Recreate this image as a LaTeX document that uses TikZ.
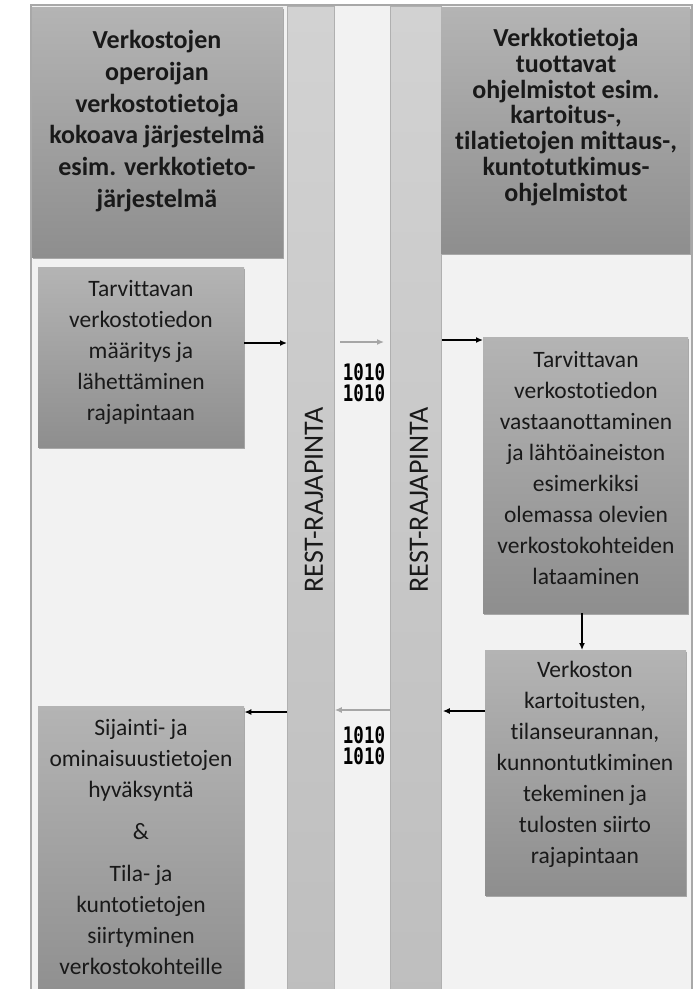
\documentclass[tikz,border=0pt]{standalone}
\usepackage{fontspec}
\setmainfont[Ligatures=NoCommon]{Carlito}
\newfontfamily\binfont{DejaVu Sans Mono}
\usetikzlibrary{shadows,arrows.meta}
\definecolor{bgc}{HTML}{F2F2F2}
\definecolor{framec}{HTML}{A8A8A8}
\definecolor{boxtop}{HTML}{B4B4B4}
\definecolor{boxbot}{HTML}{8E8E8E}
\definecolor{bartop}{HTML}{D2D2D2}
\definecolor{barbot}{HTML}{BEBEBE}
\definecolor{barline}{HTML}{B0B0B0}
\definecolor{garrow}{HTML}{A6A6A6}
\newcommand{\binline}{\scalebox{1}[1.3]{1010}}
\tikzset{
  boxnode/.style={rectangle, inner sep=0pt, top color=boxtop, bottom color=boxbot, draw=none,
    drop shadow={shadow xshift=1.2pt, shadow yshift=-1.8pt, opacity=0.3, fill=black}},
  barnode/.style={rectangle, inner sep=0pt, top color=bartop, bottom color=barbot, draw=barline, line width=0.8pt, anchor=north west},
  bodytext/.style={align=center, inner sep=0pt, font=\fontsize{23.5}{31}\selectfont, text=black!90},
  headtext/.style={align=center, inner sep=0pt, font=\fontsize{26}{31.7}\selectfont\bfseries, text=black!90},
  resttext/.style={rotate=90, inner sep=0pt, font=\fontsize{28}{30}\selectfont, text=black!90},
  bintext/.style={align=center, inner sep=0pt, font=\binfont\bfseries\fontsize{17.5}{21}\selectfont},
  arr/.style={-{Latex[length=7pt,width=6pt]}, line width=1.3pt, black},
  garr/.style={-{Latex[length=7pt,width=6pt]}, line width=1.3pt, garrow}
}
\begin{document}
\begin{tikzpicture}[x=1pt,y=-1pt]
\useasboundingbox (0,0) rectangle (700,989);
\clip (0,0) rectangle (700,989);
\fill[white] (0,0) rectangle (700,989);
% outer frame
\draw[framec, fill=bgc, line width=1.6pt] (31,5) rectangle (692,1000);
% bars
\node[barnode, minimum width=47pt, minimum height=1000pt] (barL) at (287,6) {};
\node[barnode, minimum width=51pt, minimum height=1000pt] (barR) at (390,6) {};
% headers
\node[boxnode, minimum width=251pt, minimum height=250pt, anchor=north west] (hL) at (32,7) {};
\node[boxnode, minimum width=249pt, minimum height=246pt, anchor=north west] (hR) at (441,7) {};
\node[headtext] (hLt) at (157,121) {Verkostojen\\operoijan\\verkostotietoja\\kokoava järjestelmä\\esim. verkkotieto-\\järjestelmä};
\node[headtext, font=\fontsize{26}{25.7}\selectfont\bfseries] (hRt) at (566,117) {Verkkotietoja\\tuottavat\\ohjelmistot esim.\\kartoitus-,\\tilatietojen mittaus-,\\kuntotutkimus-\\ohjelmistot};
% process boxes
\node[boxnode, minimum width=206pt, minimum height=180pt, anchor=north west] (b1) at (38,267) {};
\node[boxnode, minimum width=205pt, minimum height=276pt, anchor=north west] (b2) at (483,337) {};
\node[boxnode, minimum width=201pt, minimum height=245pt, anchor=north west] (b3) at (485,650) {};
\node[boxnode, minimum width=206pt, minimum height=300pt, anchor=north west] (b4) at (38,706) {};
\node[bodytext] (b1t) at (141,352) {Tarvittavan\\verkostotiedon\\määritys ja\\lähettäminen\\rajapintaan};
\node[bodytext] (b2t) at (586,468) {Tarvittavan\\verkostotiedon\\vastaanottaminen\\ja lähtöaineiston\\esimerkiksi\\olemassa olevien\\verkostokohteiden\\lataaminen};
\node[bodytext] (b3t) at (585,764) {Verkoston\\kartoitusten,\\tilanseurannan,\\kunnontutkiminen\\tekeminen ja\\tulosten siirto\\rajapintaan};
\node[bodytext] (b4t) at (141,847) {Sijainti- ja\\ominaisuustietojen\\hyväksyntä\\[11pt]\&\\[11pt]Tila- ja\\kuntotietojen\\siirtyminen\\verkostokohteille};
% rest labels
\node[resttext] (rL) at (314,500) {REST-RAJAPINTA};
\node[resttext] (rR) at (419,500) {REST-RAJAPINTA};
% binary
\node[bintext] (bin1) at (364,383) {\binline\\\binline};
\node[bintext] (bin2) at (364,746) {\binline\\\binline};
% connector helper coordinates
\coordinate (g1s) at (340,342);
\coordinate (g1e) at (384,342);
% arrows
\draw[arr] (b1.east |- 0,343) -- (barL.west |- 0,343);
\draw[garr] (g1s) -- (g1e);
\draw[arr] (barR.east |- 0,340) -- (b2.west |- 0,340);
\draw[arr] (b2.south -| 582,0) -- (b3.north -| 582,0);
\draw[arr] (b3.west |- 0,711) -- ([xshift=1pt]barR.east |- 0,711);
\draw[garr] (barR.west |- 0,710) -- (barL.east |- 0,710);
\draw[arr] (barL.west |- 0,712) -- (b4.east |- 0,712);
\end{tikzpicture}
\end{document}
